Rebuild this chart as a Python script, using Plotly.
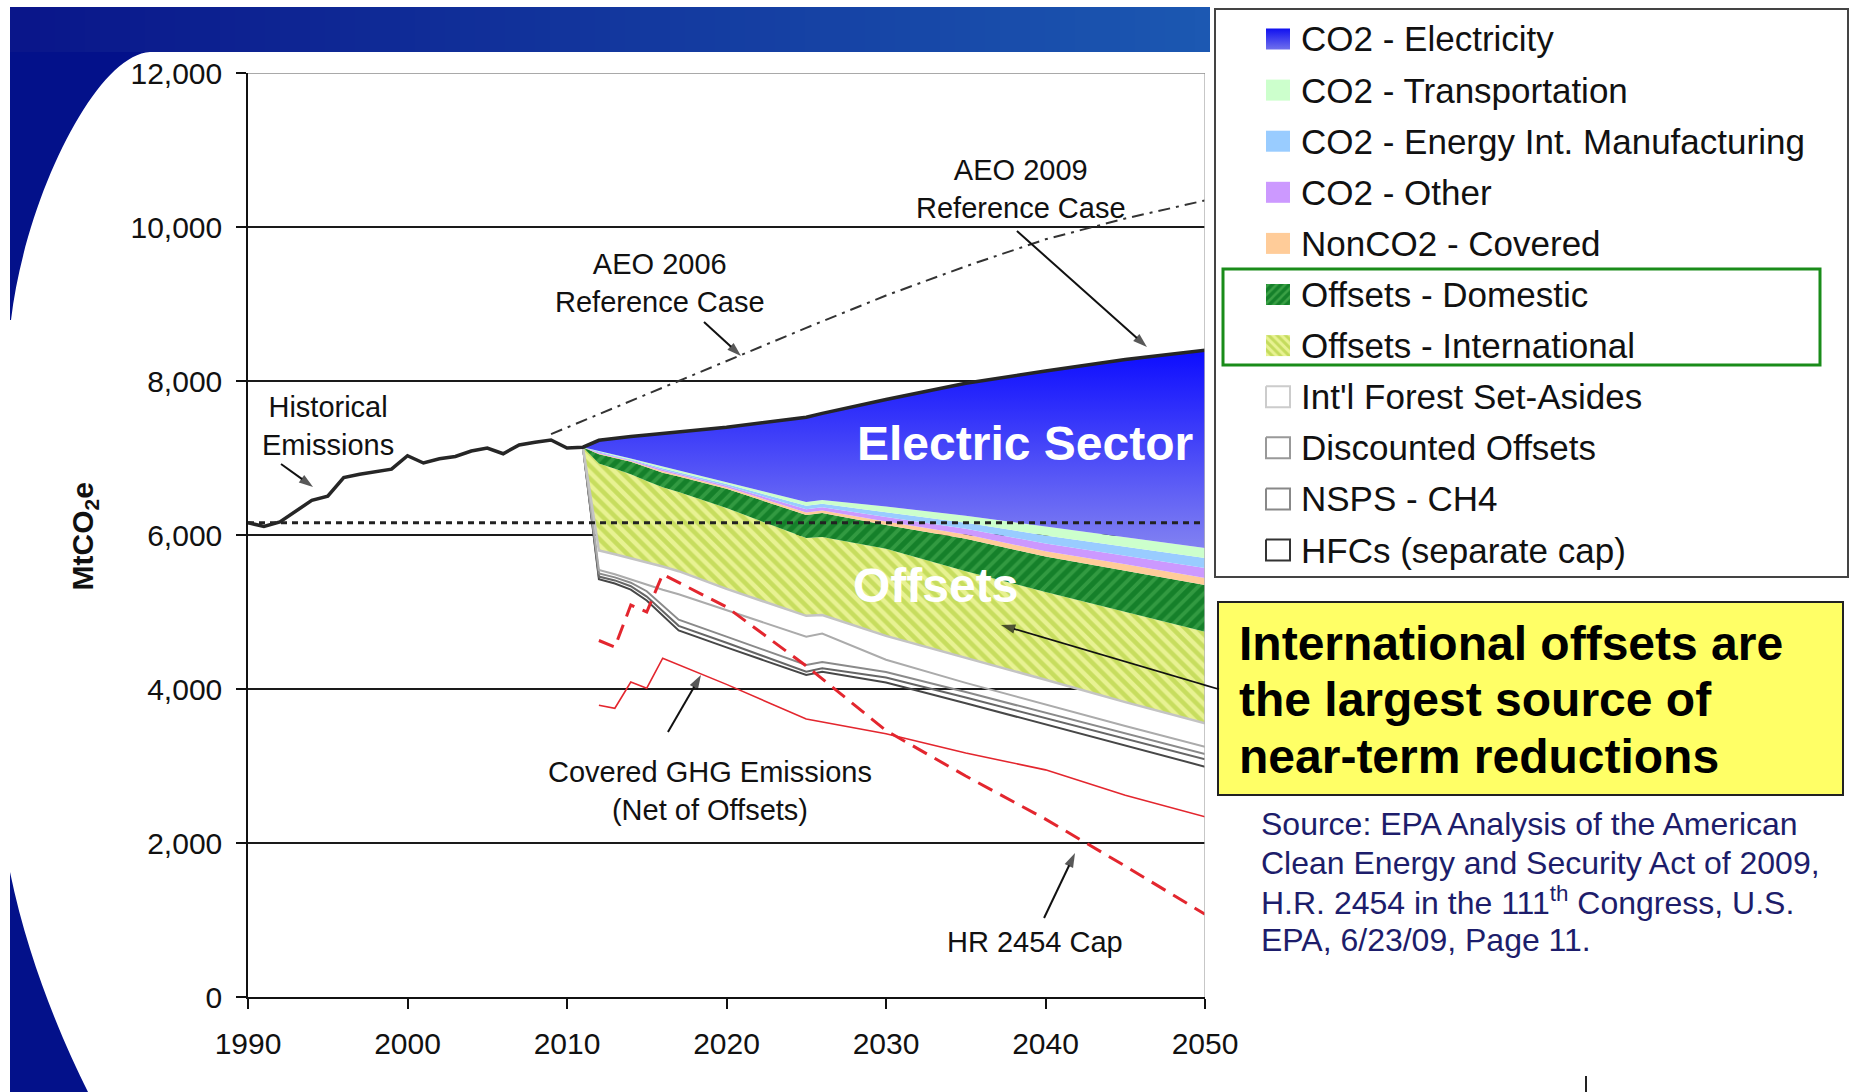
import numpy as np
import plotly.graph_objects as go

W, H = 1850, 1092
FONT = "Liberation Sans, Arial, Helvetica, sans-serif"

# ---------------- data (MtCO2e) ----------------
hist_years = list(range(1990, 2011))
historical_emissions = [6160, 6110, 6170, 6310, 6450, 6505, 6745, 6790, 6820, 6855,
                        7030, 6935, 6990, 7020, 7090, 7130, 7055, 7170, 7205, 7234, 7130]
level_1990 = 6160

proj_years = [2011, 2012, 2013, 2014, 2015, 2016, 2017, 2020, 2025, 2026, 2030, 2035, 2040, 2045, 2050]
covered_gross = [7140, 5425, 5370, 5290, 5150, 4950, 4760, 4540, 4182, 4225, 4085, 3815, 3540, 3265, 2991]
hfcs          = [0, 35, 40, 45, 50, 60, 60, 60, 43, 45, 65, 75, 80, 85, 96]
nsps_ch4      = [0, 40, 40, 45, 70, 70, 80, 80, 87, 80, 70, 70, 70, 70, 69]
discounted    = [0, 45, 40, 40, 90, 210, 330, 340, 368, 370, 160, 120, 110, 100, 95]
forest        = [0, 255, 260, 280, 290, 300, 300, 280, 270, 240, 310, 330, 320, 310, 303]
offsets_intl  = [0, 1130, 1110, 1090, 1050, 1030, 1030, 1050, 1010, 1015, 1130, 1120, 1140, 1170, 1190]
offsets_dom   = [0, 120, 140, 160, 180, 190, 200, 250, 300, 310, 310, 420, 460, 540, 607]
nonco2        = [0, 10, 10, 10, 14, 18, 18, 20, 33, 33, 45, 55, 70, 80, 89]
co2_other     = [0, 10, 10, 10, 14, 18, 18, 21, 42, 42, 60, 75, 100, 110, 130]
co2_eim       = [0, 10, 10, 10, 14, 20, 20, 22, 45, 45, 60, 80, 105, 115, 130]
co2_trans     = [0, 15, 15, 15, 18, 24, 24, 27, 50, 50, 75, 90, 115, 125, 130]
co2_elec      = [0, 135, 215, 285, 360, 430, 500, 710, 1100, 1125, 1390, 1720, 2020, 2310, 2570]

cap_years   = [2012, 2013, 2014, 2015, 2016, 2020, 2025, 2030, 2035, 2040, 2045, 2050]
hr2454_cap  = [4630, 4545, 5090, 5000, 5490, 5065, 4300, 3460, 2870, 2310, 1700, 1075]
covered_net = [3790, 3750, 4090, 4010, 4400, 4060, 3610, 3420, 3170, 2950, 2620, 2340]

aeo2006_years = [2009, 2015, 2020, 2025, 2030, 2035, 2040, 2045, 2050]
aeo2006       = [7310, 7830, 8260, 8690, 9110, 9490, 9840, 10110, 10345]

x_ticks = [1990, 2000, 2010, 2020, 2030, 2040, 2050]
y_ticks = [0, 2000, 4000, 6000, 8000, 10000, 12000]

legend_labels = ["CO2 - Electricity", "CO2 - Transportation", "CO2 - Energy Int. Manufacturing",
                 "CO2 - Other", "NonCO2 - Covered", "Offsets - Domestic", "Offsets - International",
                 "Int'l Forest Set-Asides", "Discounted Offsets", "NSPS - CH4", "HFCs (separate cap)"]

# callout arrows: (tail year, tail value) -> (tip year, tip value)
arrow_tails = [(1992.07, 6922), (2018.59, 8766), (2038.21, 9948), (2016.33, 3442), (2039.91, 1026), (2050.82, 4000)]
arrow_tips  = [(1994.08, 6623), (2020.91, 8325), (2046.36, 8442), (2018.40, 4182), (2041.85, 1870), (2037.21, 4831)]

# ---------------- helpers ----------------
def px(x):
    return x / W

def py(y):
    return 1 - y / H

def ppath(pts_cmds):
    out = []
    for item in pts_cmds:
        if isinstance(item, str):
            out.append(item)
        else:
            out.append(f"{px(item[0]):.5f},{py(item[1]):.5f}")
    return " ".join(out)

CLEAR = "rgba(0,0,0,0)"
pat_dom = dict(shape="/", bgcolor="#15802a", fgcolor="#50b458", size=9, solidity=0.42)
pat_intl = dict(shape="\\", bgcolor="#e8f292", fgcolor="#a6c72a", size=9, solidity=0.5)
elec_grad = dict(type="vertical", colorscale=[[0, "#8c8cf0"], [1, "#0a0aff"]], start=5600, stop=8450)

fig = go.Figure()

stack = [
    ("Covered emissions", covered_gross, dict(line=dict(color="#474747", width=2), fillcolor=CLEAR)),
    ("HFCs (separate cap)", hfcs, dict(line=dict(color="#666666", width=2), fillcolor=CLEAR)),
    ("NSPS - CH4", nsps_ch4, dict(line=dict(color="#8a8a8a", width=2), fillcolor=CLEAR)),
    ("Discounted Offsets", discounted, dict(line=dict(color="#ababab", width=2), fillcolor=CLEAR)),
    ("Int'l Forest Set-Asides", forest, dict(line=dict(color="#c4c4c4", width=2.5), fillcolor=CLEAR)),
    ("Offsets - International", offsets_intl, dict(line=dict(width=0), fillcolor="#dbe97a", fillpattern=pat_intl)),
    ("Offsets - Domestic", offsets_dom, dict(line=dict(width=0), fillcolor="#1f8a2e", fillpattern=pat_dom)),
    ("NonCO2 - Covered", nonco2, dict(line=dict(width=0), fillcolor="#ffcc99")),
    ("CO2 - Other", co2_other, dict(line=dict(width=0), fillcolor="#cc99ff")),
    ("CO2 - Energy Int. Manufacturing", co2_eim, dict(line=dict(width=0), fillcolor="#99ccff")),
    ("CO2 - Transportation", co2_trans, dict(line=dict(width=0), fillcolor="#ccffcc")),
    ("CO2 - Electricity", co2_elec, dict(line=dict(width=0), fillcolor="#4a4af5", fillgradient=elec_grad)),
]
for name, vals, style in stack:
    fig.add_trace(go.Scatter(x=proj_years, y=vals, name=name, stackgroup="sources", mode="lines",
                             hoverinfo="skip", showlegend=False, **style))

reference_total = np.sum([np.array(v, dtype=float) for _, v, _ in stack], axis=0)

fig.add_trace(go.Scatter(x=[hist_years[0], proj_years[-1]], y=[level_1990, level_1990], mode="lines",
                         line=dict(color="#222222", width=3, dash="6px,5px"), hoverinfo="skip", showlegend=False))
fig.add_trace(go.Scatter(x=aeo2006_years, y=aeo2006, mode="lines",
                         line=dict(color="#333333", width=2, dash="12px,6px,3px,6px"), hoverinfo="skip", showlegend=False))
fig.add_trace(go.Scatter(x=cap_years, y=hr2454_cap, mode="lines",
                         line=dict(color="#e3262e", width=3, dash="16px,9px"), hoverinfo="skip", showlegend=False))
fig.add_trace(go.Scatter(x=cap_years, y=covered_net, mode="lines",
                         line=dict(color="#e3262e", width=1.6), hoverinfo="skip", showlegend=False))
fig.add_trace(go.Scatter(x=hist_years + proj_years, y=historical_emissions + list(reference_total), mode="lines",
                         line=dict(color="#262626", width=3.5), hoverinfo="skip", showlegend=False))

for k, ((tx, ty), (hx, hy)) in enumerate(zip(arrow_tails, arrow_tips)):
    fig.add_trace(go.Scatter(x=[tx, hx], y=[ty, hy], mode="lines+markers",
                             line=dict(color="#111111", width=1.7 if k == 5 else 2),
                             marker=dict(symbol="arrow", size=[0, 15], angleref="previous", color="#111111",
                                         line=dict(width=0)),
                             cliponaxis=False, hoverinfo="skip", showlegend=False))

# ---------------- legend icons (overlay pixel axes) ----------------
icon_styles = [
    dict(fillcolor="#3a3af0", fillgradient=dict(type="vertical", colorscale=[[0, "#7070ec"], [1, "#1010f0"]]), line=dict(width=0)),
    dict(fillcolor="#ccffcc", line=dict(width=0)),
    dict(fillcolor="#99ccff", line=dict(width=0)),
    dict(fillcolor="#cc99ff", line=dict(width=0)),
    dict(fillcolor="#ffcc99", line=dict(width=0)),
    dict(fillcolor="#1f8a2e", fillpattern=dict(shape="/", bgcolor="#15802a", fgcolor="#60c060", size=6, solidity=0.42), line=dict(width=0)),
    dict(fillcolor="#dbe97a", fillpattern=dict(shape="\\", bgcolor="#e8f292", fgcolor="#a0c428", size=6, solidity=0.5), line=dict(width=0)),
    dict(fillcolor="white", line=dict(color="#cccccc", width=2)),
    dict(fillcolor="white", line=dict(color="#999999", width=2)),
    dict(fillcolor="white", line=dict(color="#888888", width=2)),
    dict(fillcolor="white", line=dict(color="#333333", width=2)),
]
leg_y0, leg_dy = 39, 51.1
for i, lab in enumerate(legend_labels):
    yc = leg_y0 + leg_dy * i
    x0, x1, y0, y1 = 1266, 1290, yc - 10.5, yc + 10.5
    fig.add_trace(go.Scatter(x=[x0, x1, x1, x0, x0], y=[y0, y0, y1, y1, y0], fill="toself", mode="lines",
                             xaxis="x2", yaxis="y2", hoverinfo="skip", showlegend=False, **icon_styles[i]))

# ---------------- shapes ----------------
shapes = []
shapes.append(dict(type="path", xref="paper", yref="paper", layer="below",
                   path=ppath(["M", (10, 7), "L", (160, 7), "L", (160, 52), "L", (150, 52), "C", (95, 55), (25, 200), (11, 320),
                               "L", (10, 320), "Z"]),
                   fillcolor="#03118a", line=dict(width=0)))
shapes.append(dict(type="path", xref="paper", yref="paper", layer="below",
                   path=ppath(["M", (10, 872), "C", (28, 960), (62, 1040), (88, 1092), "L", (10, 1092), "Z"]),
                   fillcolor="#03118a", line=dict(width=0)))
c0 = np.array([10, 22, 138])
c1 = np.array([28, 88, 178])
N = 80
bx0, bx1 = 10, 1210
for i in range(N):
    t = i / (N - 1)
    c = (c0 + (c1 - c0) * t).astype(int)
    xa = bx0 + (bx1 - bx0) * i / N
    xb = bx0 + (bx1 - bx0) * (i + 1) / N + 0.8
    shapes.append(dict(type="rect", xref="paper", yref="paper", layer="below",
                       x0=px(xa), x1=px(min(xb, bx1)), y0=py(52), y1=py(7),
                       fillcolor=f"rgb({c[0]},{c[1]},{c[2]})", line=dict(width=0)))
shapes.append(dict(type="line", xref="x", yref="y", x0=2050, x1=2050, y0=0, y1=12000,
                   line=dict(color="#b4b4b4", width=1.5), layer="above"))
shapes.append(dict(type="line", xref="x", yref="y", x0=1990, x1=2050, y0=12000, y1=12000,
                   line=dict(color="#8c8c8c", width=1.5), layer="above"))
shapes.append(dict(type="line", xref="paper", yref="paper", x0=px(1204), y0=py(684.9), x1=px(1219), y1=py(689.3),
                   line=dict(color="#111111", width=1.7)))
shapes.append(dict(type="rect", xref="paper", yref="paper", x0=px(1215), x1=px(1848), y0=py(577), y1=py(9),
                   line=dict(color="#444444", width=2), fillcolor="white", layer="below"))
shapes.append(dict(type="rect", xref="paper", yref="paper", x0=px(1223), x1=px(1820), y0=py(365), y1=py(269),
                   line=dict(color="#1a8c1a", width=3), fillcolor=CLEAR, layer="above"))
shapes.append(dict(type="rect", xref="paper", yref="paper", x0=px(1218), x1=px(1843), y0=py(795), y1=py(602),
                   line=dict(color="#222222", width=2), fillcolor="#ffff66", layer="below"))
shapes.append(dict(type="line", xref="paper", yref="paper", x0=px(1586), x1=px(1586), y0=py(1092), y1=py(1076),
                   line=dict(color="#222222", width=2)))

# ---------------- annotations ----------------
ann = []

def txt(x, y, text, size=29, color="#111111", bold=False, xref="x", yref="y", xanchor="center", yanchor="middle", **kw):
    if bold:
        text = f"<b>{text}</b>"
    ann.append(dict(x=x, y=y, xref=xref, yref=yref, text=text, showarrow=False, xanchor=xanchor, yanchor=yanchor,
                    font=dict(family=FONT, size=size, color=color), **kw))

txt(1995.02, 7416, "Historical<br>Emissions")
txt(2015.83, 9279, "AEO 2006<br>Reference Case")
txt(2038.46, 10500, "AEO 2009<br>Reference Case")
txt(2018.97, 2669, "Covered GHG Emissions<br>(Net of Offsets)")
txt(2039.34, 714, "HR 2454 Cap")
txt(2038.71, 7182, "Electric Sector", size=48, color="white", bold=True)
txt(2033.13, 5338, "Offsets", size=48, color="white", bold=True)

ann.append(dict(x=px(63), y=py(537), xref="paper", yref="paper", text="<b>MtCO<sub>2</sub>e</b>", textangle=-90,
                showarrow=False, font=dict(family=FONT, size=30, color="#111111")))

for i, lab in enumerate(legend_labels):
    yc = leg_y0 + leg_dy * i
    txt(px(1299), py(yc), lab, size=35, xref="paper", yref="paper", xanchor="left")

for k, line in enumerate(["International offsets are", "the largest source of", "near-term reductions"]):
    txt(px(1237), py(643 + 56.5 * k), line, size=48, bold=True, xref="paper", yref="paper", xanchor="left",
        color="#000000")

src_lines = ["Source: EPA Analysis of the American", "Clean Energy and Security Act of 2009,",
             "H.R. 2454 in the 111<sup>th</sup> Congress, U.S.", "EPA, 6/23/09, Page 11."]
for k, line in enumerate(src_lines):
    txt(px(1259), py(824 + 38.7 * k), line, size=32, color="#1d1d6b", xref="paper", yref="paper", xanchor="left")

# ---------------- layout ----------------
fig.update_layout(
    width=W, height=H, margin=dict(l=0, r=0, t=0, b=0),
    paper_bgcolor="white", plot_bgcolor=CLEAR, showlegend=False,
    font=dict(family=FONT, color="#111111"),
    xaxis=dict(domain=[px(248), px(1205)], range=[1990, 2050], tickvals=x_ticks, ticks="outside", ticklen=10,
               tickwidth=1.5, tickcolor="#111111", showline=True, linecolor="#111111", linewidth=1.5,
               showgrid=False, zeroline=False, tickfont=dict(family=FONT, size=30, color="#111111"),
               automargin=False, fixedrange=True, ticklabelstandoff=9),
    yaxis=dict(domain=[py(997), py(73)], range=[0, 12000], tickvals=y_ticks, tickformat=",", ticks="outside",
               ticklen=10, tickwidth=1.5, tickcolor="#111111", showline=True, linecolor="#111111", linewidth=1.5,
               showgrid=True, gridcolor="#1a1a1a", gridwidth=1.5, zeroline=False,
               tickfont=dict(family=FONT, size=30, color="#111111"), automargin=False, fixedrange=True,
               ticklabelstandoff=8),
    xaxis2=dict(domain=[0, 1], range=[0, W], visible=False, anchor="y2", fixedrange=True),
    yaxis2=dict(domain=[0, 1], range=[H, 0], visible=False, anchor="x2", fixedrange=True),
    shapes=shapes, annotations=ann,
)

fig.write_html("out.html", config={"displayModeBar": False})
